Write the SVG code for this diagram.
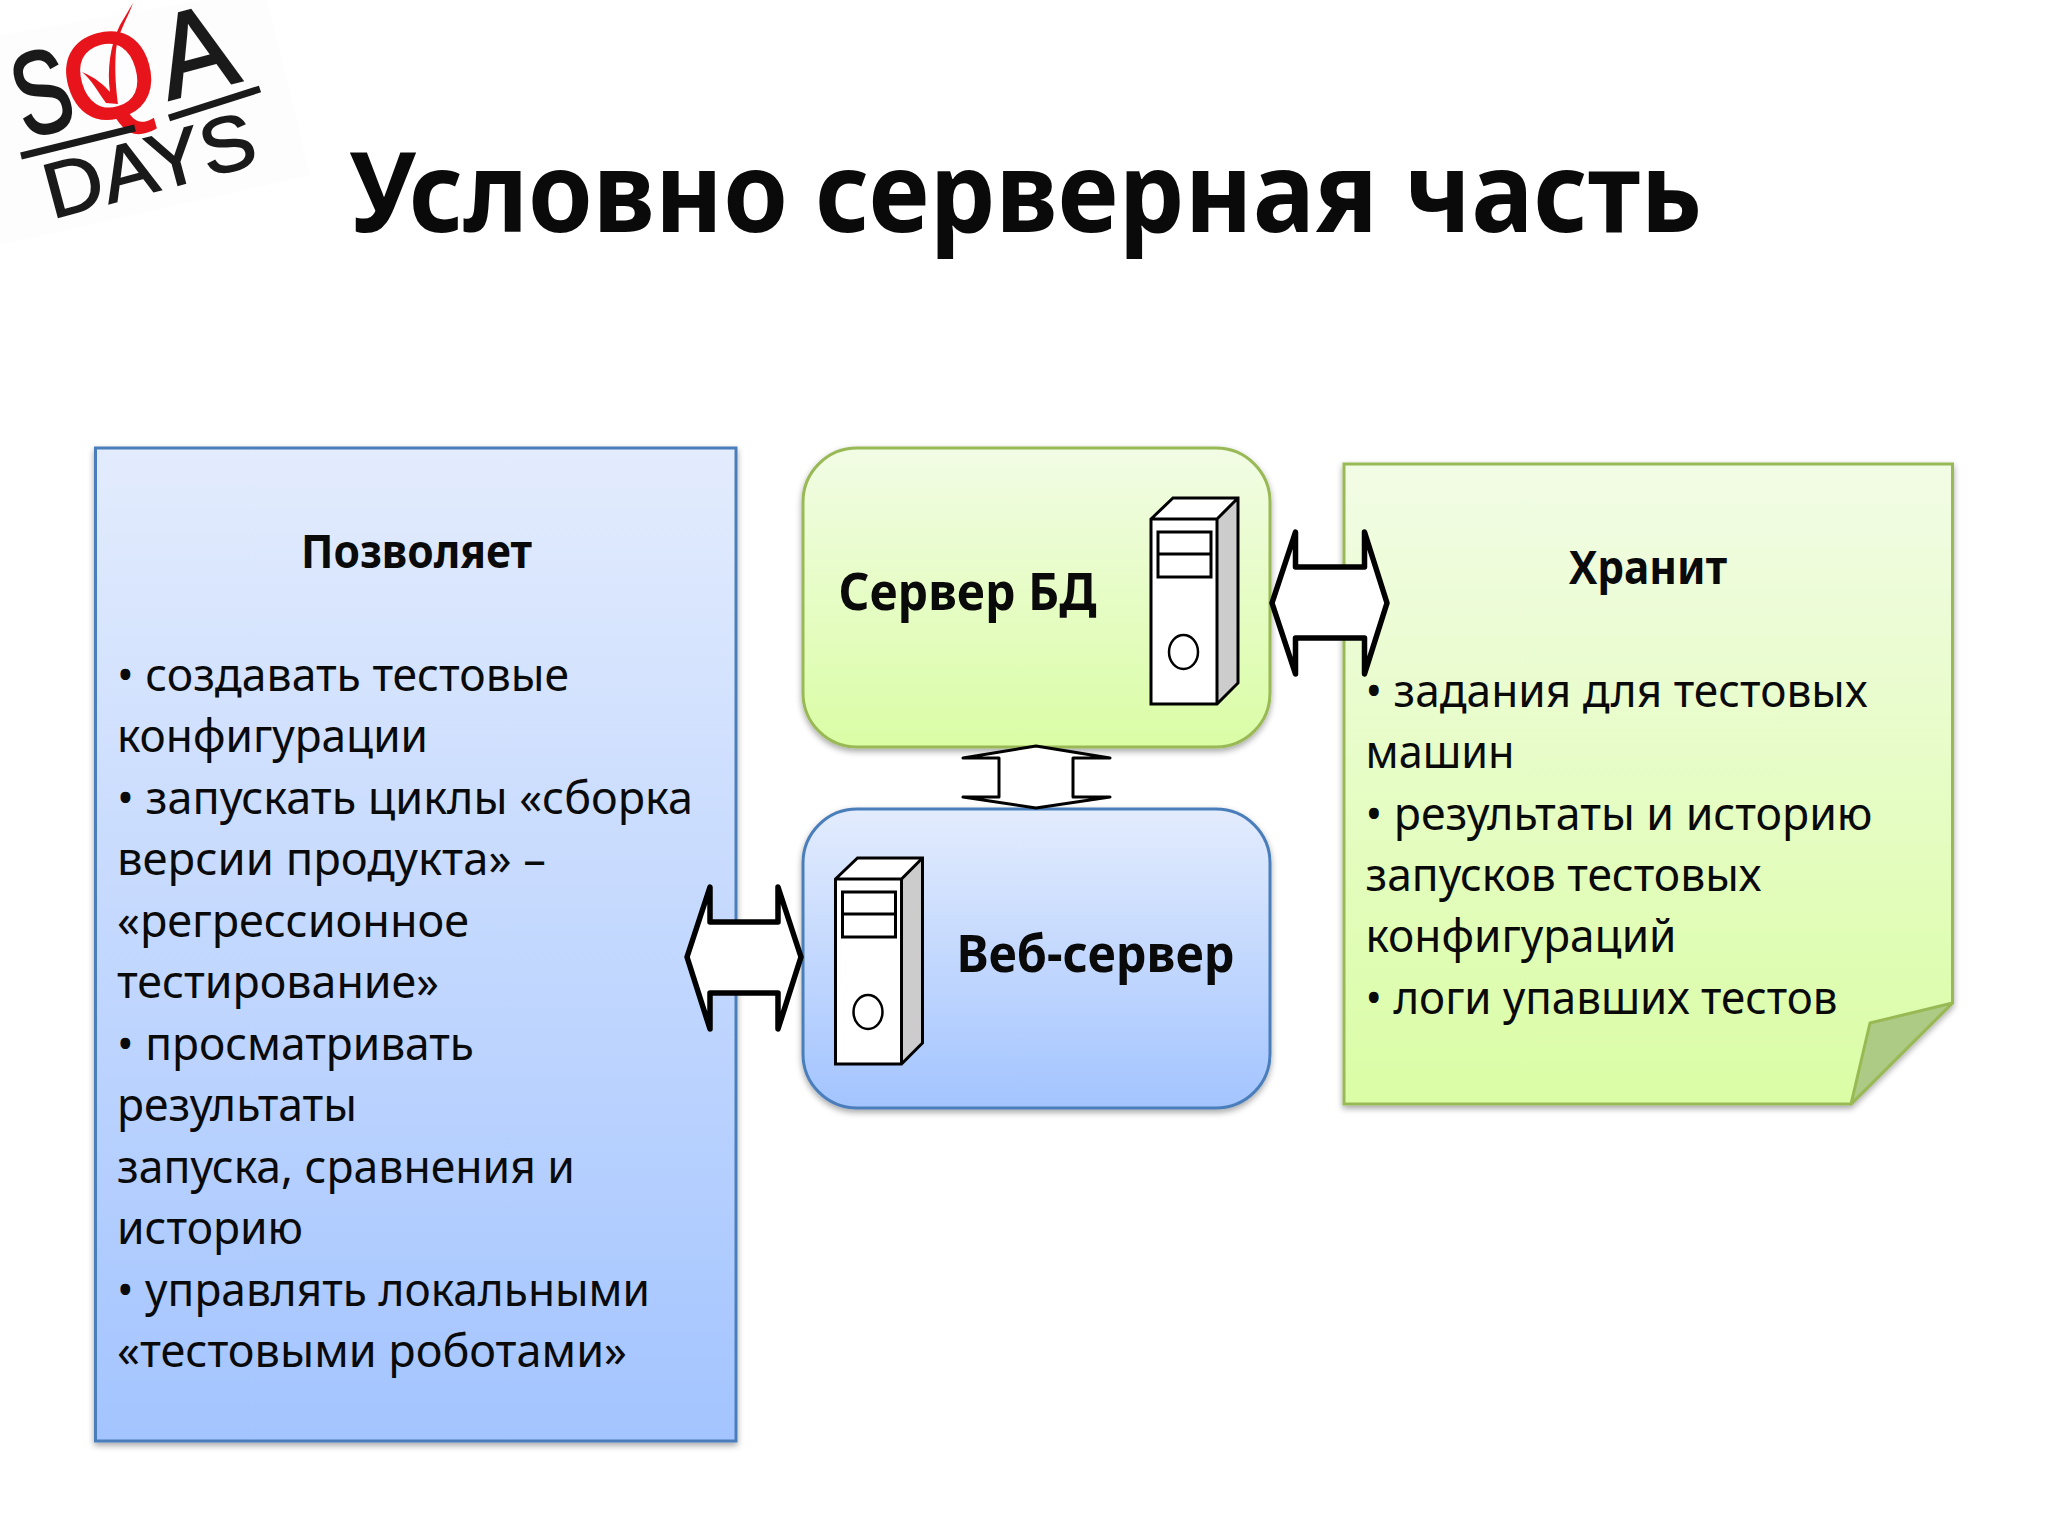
<svg xmlns="http://www.w3.org/2000/svg" width="2048" height="1536" viewBox="0 0 2048 1536">
<defs>
<linearGradient id="blue" x1="0" y1="0" x2="0" y2="1"><stop offset="0" stop-color="#e3ecfd"/><stop offset="1" stop-color="#a3c4ff"/></linearGradient>
<linearGradient id="green" x1="0" y1="0" x2="0" y2="1"><stop offset="0" stop-color="#f2fce5"/><stop offset="1" stop-color="#dafda5"/></linearGradient>
<filter id="sh" x="-5%" y="-5%" width="110%" height="110%"><feDropShadow dx="0" dy="3" stdDeviation="3" flood-color="#000" flood-opacity="0.35"/></filter>
<g id="srv"><path d="M1151 519L1173 498H1239L1217 519Z" fill="#fff"/><path d="M1217 519L1239 498V683L1217 704Z" fill="#ccc"/><rect x="1151" y="519" width="66" height="185" fill="#fff"/><path d="M1151 519L1173 498H1238V683L1217 704H1151ZM1151 519H1217L1238 498M1217 519V704" fill="none" stroke="#000" stroke-width="3"/><rect x="1158" y="532" width="53" height="45" fill="none" stroke="#000" stroke-width="3"/><path d="M1158 554H1211" stroke="#000" stroke-width="3"/><ellipse cx="1183.500" cy="652" rx="14.500" ry="17" fill="none" stroke="#000" stroke-width="2.500"/></g>
</defs>
<style>
text{font-family:"Noto Sans","Liberation Sans",sans-serif;fill:#0a0a0a}
.b{font-size:46px}
.h{font-size:46px;font-weight:700}
.n{font-size:52px;font-weight:700}
.l{font-family:"Liberation Sans",sans-serif;fill:#1a1a1a;stroke:#1a1a1a}
.bl{fill:url(#blue);stroke:#4a7ebb;stroke-width:3;filter:url(#sh)}
.gr{fill:url(#green);stroke:#98b954;stroke-width:3;filter:url(#sh)}
.ar{fill:#fff;stroke:#000;stroke-linejoin:round;stroke-linecap:round}
</style>
<rect width="2048" height="1536" fill="#fff"/>
<g id="logo">
<path d="M0 35L265 -10L310 175L0 245Z" fill="#fdfdfd"/>
<text class="l" transform="translate(26 139) rotate(-16)" font-size="118" stroke-width="2.500" textLength="56" lengthAdjust="spacingAndGlyphs">S</text>
<text class="l" transform="translate(169 100) rotate(-15)" font-size="118" stroke-width="2.500" textLength="76" lengthAdjust="spacingAndGlyphs">A</text>
<text transform="translate(76 128) rotate(-16)" font-size="120" stroke-width="3" style="font-family:'Liberation Sans',sans-serif;fill:#e8141c;stroke:#e8141c" textLength="92" lengthAdjust="spacingAndGlyphs">Q</text>
<path d="M133 3C127 20 118 32 116 50C114 75 117 95 118 104L106 103C98 92 92 80 82 72C96 78 104 85 110 92C107 70 110 45 120 25Z" fill="#e8141c"/>
<path d="M21 156L135 128M169 118L260 89" stroke="#1a1a1a" stroke-width="7" fill="none"/>
<text class="l" transform="translate(52 219) rotate(-15)" font-size="78" stroke-width="1.500" textLength="216" lengthAdjust="spacingAndGlyphs">DAYS</text>
</g>
<g id="title"><text x="349" y="232" font-size="112" font-weight="700" textLength="1353" lengthAdjust="spacingAndGlyphs">Условно серверная часть</text></g>
<g id="allows">
<rect class="bl" x="95.500" y="448" width="640.500" height="993"/>
<text class="h" x="301" y="568" textLength="231" lengthAdjust="spacingAndGlyphs">Позволяет</text>
<g class="b">
<text x="117" y="691" textLength="452" lengthAdjust="spacingAndGlyphs">• создавать тестовые</text>
<text x="117" y="752" textLength="311" lengthAdjust="spacingAndGlyphs">конфигурации</text>
<text x="117" y="814" textLength="576" lengthAdjust="spacingAndGlyphs">• запускать циклы «сборка</text>
<text x="117" y="875" textLength="429" lengthAdjust="spacingAndGlyphs">версии продукта» –</text>
<text x="117" y="937" textLength="352" lengthAdjust="spacingAndGlyphs">«регрессионное</text>
<text x="117" y="998" textLength="322" lengthAdjust="spacingAndGlyphs">тестирование»</text>
<text x="117" y="1060" textLength="357" lengthAdjust="spacingAndGlyphs">• просматривать</text>
<text x="117" y="1121" textLength="240" lengthAdjust="spacingAndGlyphs">результаты</text>
<text x="117" y="1183" textLength="458" lengthAdjust="spacingAndGlyphs">запуска, сравнения и</text>
<text x="117" y="1244" textLength="186" lengthAdjust="spacingAndGlyphs">историю</text>
<text x="117" y="1306" textLength="533" lengthAdjust="spacingAndGlyphs">• управлять локальными</text>
<text x="117" y="1367" textLength="510" lengthAdjust="spacingAndGlyphs">«тестовыми роботами»</text>
</g>
</g>
<g id="db-server">
<rect class="gr" x="803" y="448" width="467" height="299" rx="54"/>
<text class="n" x="838.500" y="610" textLength="258" lengthAdjust="spacingAndGlyphs">Сервер БД</text>
<use href="#srv"/>
</g>
<g id="web-server">
<rect class="bl" x="803" y="809" width="467" height="299" rx="54"/>
<text class="n" x="956.500" y="972" textLength="278" lengthAdjust="spacingAndGlyphs">Веб-сервер</text>
<use href="#srv" transform="translate(-315.500 360)"/>
</g>
<g id="stores">
<path class="gr" d="M1344 464H1952.500V1003L1851 1104H1344Z"/>
<path d="M1952.500 1003L1870 1023L1851 1104Z" fill="#aecb85" stroke="#98b954" stroke-width="3" stroke-linejoin="round"/>
<text class="h" x="1569" y="584" textLength="158" lengthAdjust="spacingAndGlyphs">Хранит</text>
<g class="b">
<text x="1365.500" y="707" textLength="502" lengthAdjust="spacingAndGlyphs">• задания для тестовых</text>
<text x="1365.500" y="768" textLength="149" lengthAdjust="spacingAndGlyphs">машин</text>
<text x="1365.500" y="830" textLength="507" lengthAdjust="spacingAndGlyphs">• результаты и историю</text>
<text x="1365.500" y="891" textLength="396" lengthAdjust="spacingAndGlyphs">запусков тестовых</text>
<text x="1365.500" y="952" textLength="311" lengthAdjust="spacingAndGlyphs">конфигураций</text>
<text x="1365.500" y="1014" textLength="472" lengthAdjust="spacingAndGlyphs">• логи упавших тестов</text>
</g>
</g>
<g id="connectors">
<path class="ar" stroke-width="5.500" d="M1272 603L1295.500 532V567H1364.500V532L1387 603L1364.500 674V638H1295.500V674Z"/>
<path class="ar" stroke-width="5.500" d="M687 957L710 887V922H778V887L801 957L778 1029V993H710V1029Z"/>
<path class="ar" stroke-width="3" d="M1036 746L1110 758H1073V797H1110L1036 808L963 797H999V758H963Z"/>
</g>
</svg>
